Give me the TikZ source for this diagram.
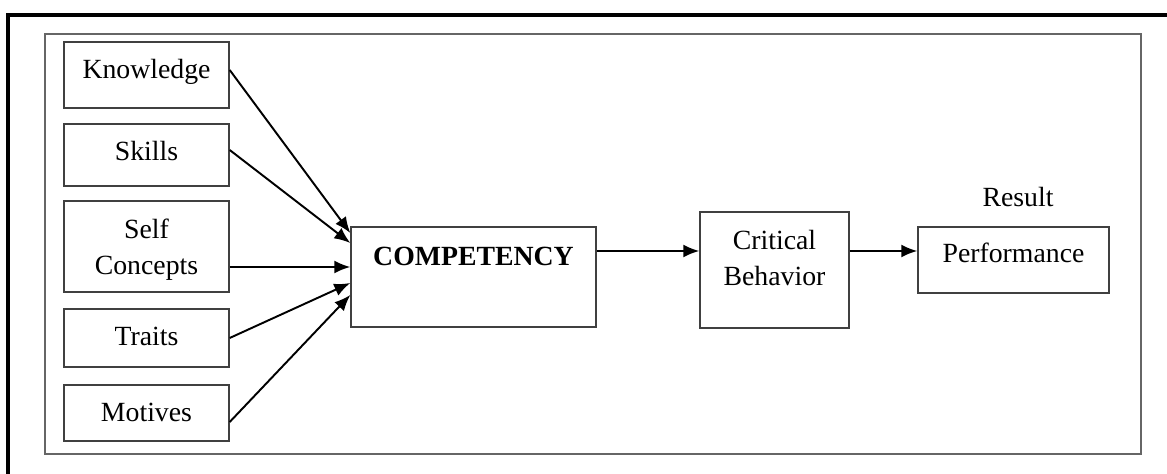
\documentclass[tikz,border=0pt]{standalone}
\usepackage{fontspec}
\setmainfont{Liberation Serif}
\usetikzlibrary{shapes, arrows.meta, positioning}

\begin{document}
\begin{tikzpicture}[font=\fontsize{15.8pt}{21pt}\selectfont,
		box/.style={draw=black!75, line width=0.8pt, rectangle, inner sep=0pt, align=center, text height=0.74cm},
		src/.style={box, minimum width=3.3cm},
		arr/.style={draw, -{Latex[length=3.2mm, width=2.6mm]}, line width=1.1pt}]
		\useasboundingbox (0, 0) rectangle (23.34, -9.48);
		\path [draw, line width=2.4pt] (23.34, -0.30) -- (0.16, -0.30) -- (0.16, -9.48);
		\path [draw, black!60, line width=1pt] (0.90, -0.68) rectangle (22.82, -9.08);
		\node[src, text depth=0.58cm] (knowledge) at (2.93, -1.50) {Knowledge};
		\node[src, text depth=0.50cm] (skills) at (2.93, -3.10) {Skills};
		\node[src, text height=1.48cm, text depth=0.34cm] (self-concepts) at (2.93, -4.93) {Self\\Concepts};
		\node[src, text depth=0.42cm] (traits) at (2.93, -6.76) {Traits};
		\node[src, text depth=0.38cm] (motives) at (2.93, -8.26) {Motives};
		\node[box, minimum width=4.9cm, text height=0.78cm, text depth=1.22cm] (competency) at (9.47, -5.54) {\textbf{COMPETENCY}};
		\node[box, minimum width=2.98cm, text height=1.48cm, text depth=0.84cm] (critical-behavior) at (15.49, -5.40) {Critical\\Behavior};
		\node[box, minimum width=3.82cm, text height=0.72cm, text depth=0.60cm] (performance) at (20.27, -5.20) {Performance};
		\node[anchor=base, inner sep=0pt] (result) at (20.36, -4.14) {Result};
		\path [arr] ([yshift=0.10cm]knowledge.east) -- ([yshift=0.88cm]competency.west);
		\path [arr] ([yshift=0.10cm]skills.east) -- ([yshift=0.68cm]competency.west);
		\path [arr] ([yshift=-0.41cm]self-concepts.east) -- ([yshift=-0.41cm]self-concepts.east -| competency.west);
		\path [arr] (traits.east) -- ([yshift=-0.12cm]competency.west);
		\path [arr] ([yshift=-0.18cm]motives.east) -- ([yshift=-0.36cm]competency.west);
		\path [arr] ([yshift=0.52cm]competency.east) -- ([yshift=0.52cm]competency.east -| critical-behavior.west);
		\path [arr] ([yshift=0.38cm]critical-behavior.east) -- ([yshift=0.38cm]critical-behavior.east -| performance.west);
	\end{tikzpicture}
\end{document}
